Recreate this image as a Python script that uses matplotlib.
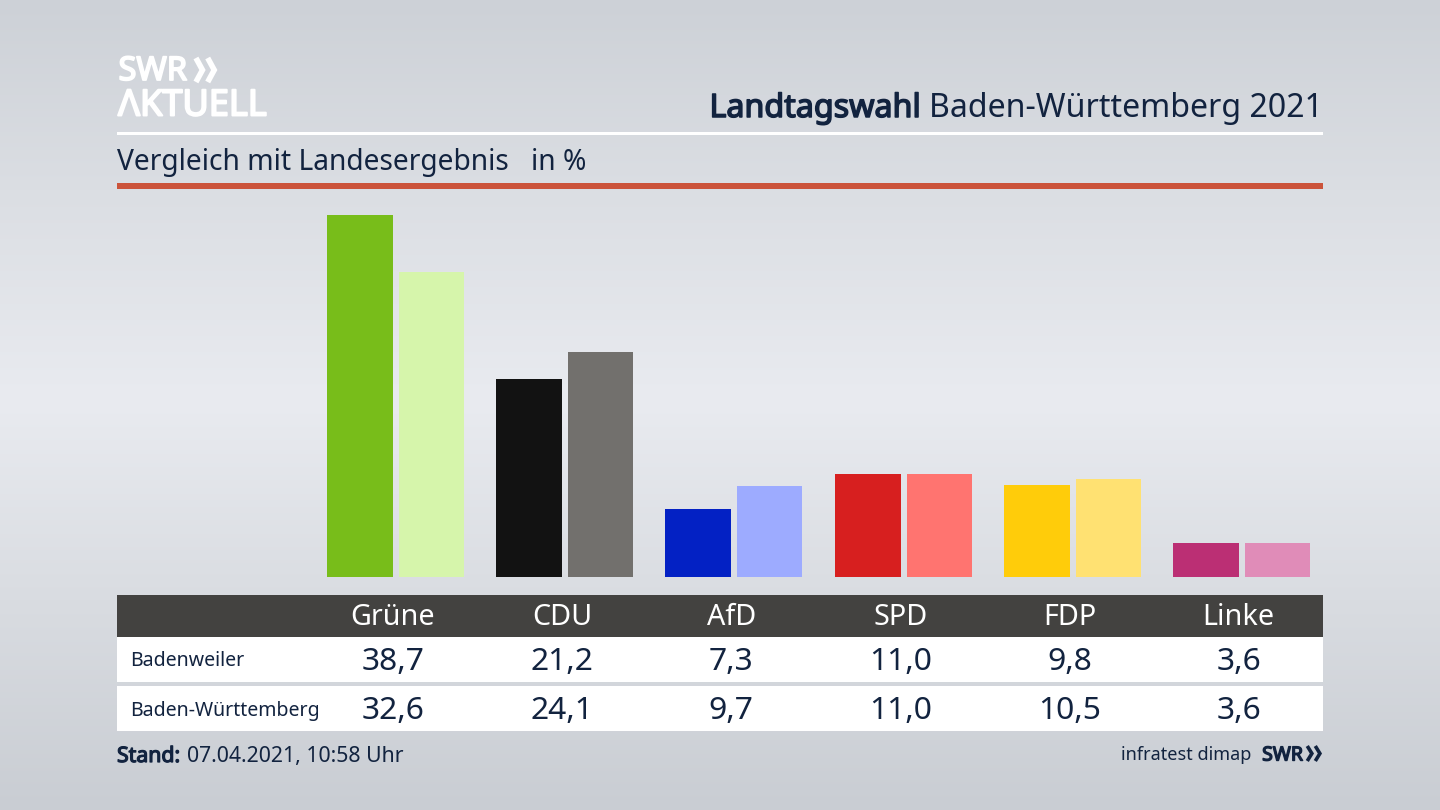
import numpy as np
import matplotlib
matplotlib.use("Agg")
import matplotlib.pyplot as plt
import matplotlib.patheffects as pe
from matplotlib.patches import Rectangle

plt.rcParams['font.family'] = ['Noto Sans', 'DejaVu Sans']

parties = ["Grüne", "CDU", "AfD", "SPD", "FDP", "Linke"]
local_values = [38.7, 21.2, 7.3, 11.0, 9.8, 3.6]
state_values = [32.6, 24.1, 9.7, 11.0, 10.5, 3.6]
local_colors = ["#78bd1a", "#121212", "#0321c4", "#d71f1f", "#ffcc0a", "#bb2f74"]
state_colors = ["#d6f5ab", "#72706d", "#9dabff", "#ff7470", "#ffe172", "#e08cb8"]
row_names = ["Badenweiler", "Baden-Württemberg"]
bg_stops_y = [0, 190, 400, 600, 810]
bg_stops_c = [(205, 209, 215), (219, 222, 227), (233, 235, 240), (217, 220, 225), (201, 205, 211)]

W, H = 1440, 810
NAVY = "#12233f"
fig = plt.figure(figsize=(14.4, 8.1), dpi=100)

page = fig.add_axes([0, 0, 1, 1])
page.set_xlim(0, W)
page.set_ylim(H, 0)
page.axis("off")
ys = np.arange(H)
grad = np.stack([np.interp(ys, bg_stops_y, [c[i] for c in bg_stops_c]) for i in range(3)], axis=1) / 255
page.imshow(grad[:, None, :], extent=[0, W, H, 0], aspect="auto", zorder=0, interpolation="bilinear")


def rect(x0, y0, x1, y1, color, z=1):
    page.add_patch(Rectangle((x0, y0), x1 - x0, y1 - y0, facecolor=color, edgecolor="none", zorder=z))


def label(px, py, s, size, color=NAVY, ha="left", bold=0.0):
    t = page.text(px, py + 2.5, s, color=color, fontsize=size, va="center", ha=ha, zorder=3)
    if bold:
        t.set_path_effects([pe.withStroke(linewidth=bold, foreground=color)])
    return t


def chevrons(x0, x1, y0, y1, lw, color):
    """Two logo chevrons filling the pixel box x0..x1, y0..y1."""
    stroke = lw / 0.72
    each = (x1 - x0 - stroke * 0.35) / 2
    for k in (0, 1):
        left = x0 + k * each * 1.02 + stroke * 0.35
        page.plot([left, left + each - stroke * 0.9, left],
                  [y0, (y0 + y1) / 2, y1],
                  color=color, lw=lw, solid_joinstyle="miter", solid_capstyle="butt", zorder=3)


L, R = 117, 1323
rect(L, 132, R, 135, "white")
rect(L, 183, R, 189, "#cb533a")
rect(L, 595, R, 637, "#434240")
rect(L, 637, R, 682, "white")
rect(L, 686, R, 731, "white")

# logo
label(118.5, 69, "SWR", 23.5, "white", bold=1.3)
chevrons(194, 219, 58, 82, 4.0, "white")
label(118, 104, "ΛKTUELL", 26, "white", bold=1.4)

# headings
label(1323, 106, "Baden-Württemberg 2021", 23.1, ha="right")
label(921, 106, "Landtagswahl", 23.2, ha="right", bold=1.1)
label(117, 160, "Vergleich mit Landesergebnis", 20.3)
label(531, 160, "in %", 20.3)

# bar chart on its own axes: x px = 393 + 169.2 * index, baseline at px 577
scale = 362 / 38.7
ax_top, ax_bottom = 190, 577
step = 169.2
ax = fig.add_axes([L / W, 1 - ax_bottom / H, (R - L) / W, (ax_bottom - ax_top) / H])
ax.patch.set_alpha(0)
ax.axis("off")
ax.set_xlim((L - 393) / step, (R - 393) / step)
ax.set_ylim(0, (ax_bottom - ax_top) / scale)
x = np.arange(len(parties))
ax.bar(x - 33 / step, local_values, width=66 / step, color=local_colors, linewidth=0)
ax.bar(x + 38.5 / step, state_values, width=65 / step, color=state_colors, linewidth=0)

# table
cx = 393 + 169.1 * x
for xi, p, a, b in zip(cx, parties, local_values, state_values):
    label(xi, 615, p, 20.7, "white", ha="center")
    label(xi, 659, f"{a:.1f}".replace(".", ","), 22.9, ha="center")
    label(xi, 708.5, f"{b:.1f}".replace(".", ","), 22.9, ha="center")
label(130.5, 659, row_names[0], 14.05)
label(130.5, 708.5, row_names[1], 14.05)

# footer
label(117, 754, "Stand:", 15.3, bold=0.9)
label(187, 754, "07.04.2021, 10:58 Uhr", 15.3)
label(1251, 753, "infratest dimap", 13.0, ha="right")
label(1303, 753, "SWR", 14, ha="right", bold=1.0)
chevrons(1306, 1323, 746, 761, 2.6, NAVY)

fig.savefig("out.png", dpi=100)
